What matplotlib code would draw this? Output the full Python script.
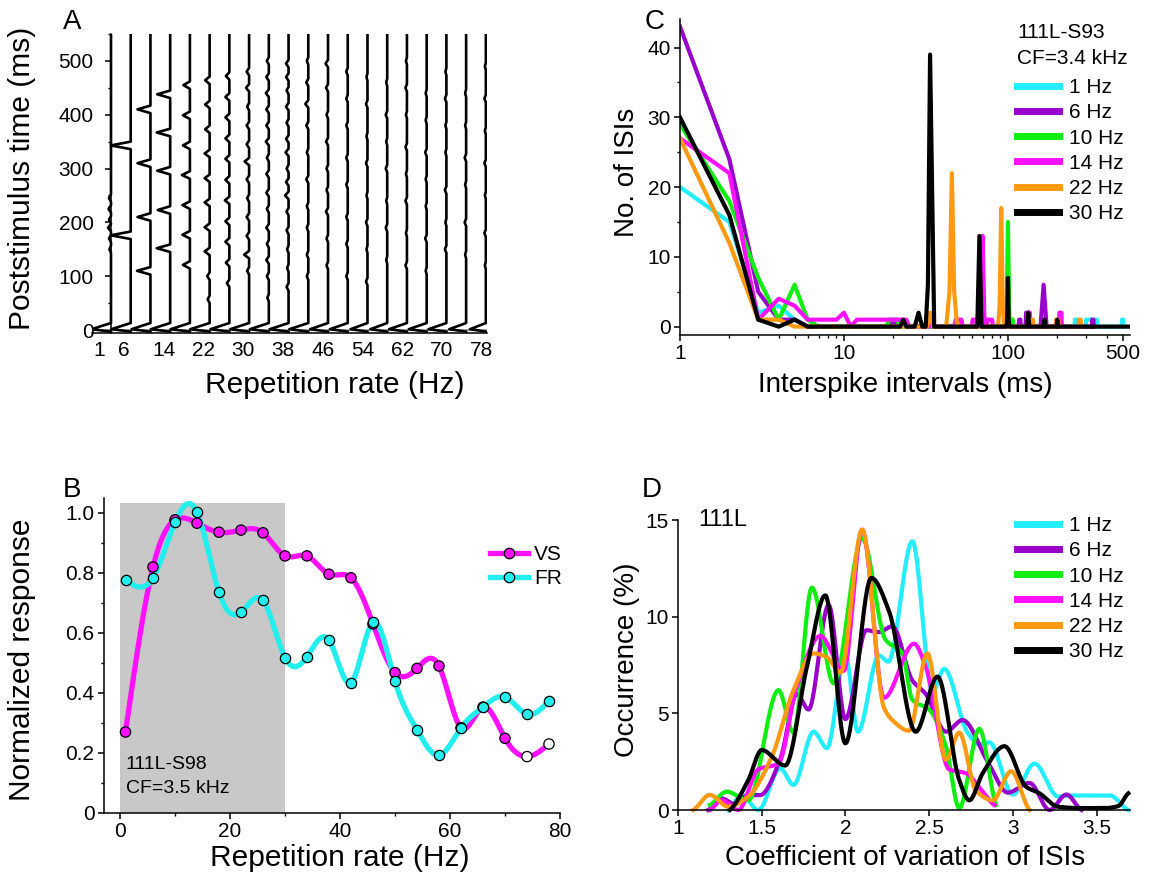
import numpy as np
import matplotlib
matplotlib.use('Agg')
import matplotlib.pyplot as plt
from matplotlib.patches import Rectangle
from matplotlib.ticker import MultipleLocator, FixedLocator, NullFormatter
from matplotlib.lines import Line2D

plt.rcParams['font.family'] = ['Liberation Sans', 'DejaVu Sans']

W, H = 1150, 894

# ---------------- panel A : PSTHs ----------------
a_rates = [1, 6, 10, 14, 18, 22, 26, 30, 34, 38, 42, 46, 50, 54, 58, 62, 66, 70, 74, 78]
a_ticks = [1, 6, 14, 22, 30, 38, 46, 54, 62, 70, 78]
a_onset = [3.9, 3.9, 3.8, 3.9, 3.9, 3.9, 3.8, 3.8, 3.8, 3.8, 3.8, 3.6, 3.6, 3.4, 3.4, 3.6, 3.6, 3.6, 3.4, 3.2]
a_peak_t = [
    [150, 170, 190, 205, 225, 245],
    [176, 343],
    [110, 210, 310, 410],
    [152, 223, 296, 367, 438],
    [121, 177, 232, 288, 343, 399, 455],
    [57, 100, 146, 191, 237, 282, 328, 373, 419, 464],
    [87, 125, 164, 202, 241, 279, 318, 356, 395, 433, 472],
    [110, 140, 175, 210, 245, 280, 313, 345, 380, 415, 450, 480],
    [60, 100, 130, 160, 190, 225, 255, 290, 320, 350, 380, 410, 440, 470, 500],
    [80, 115, 150, 185, 220, 250, 275, 300, 330, 355, 385, 415, 445, 470, 495],
    [100, 140, 190, 230, 280, 330, 380, 420, 460, 500],
    [120, 170, 220, 260, 300, 350, 400, 450, 495],
    [100, 160, 210, 270, 320, 380, 430, 480],
    [90, 150, 200, 250, 310, 360, 420, 470],
    [130, 190, 240, 300, 350, 400, 460],
    [120, 180, 240, 290, 340, 400, 450, 500],
    [110, 170, 230, 280, 330, 390, 440],
    [150, 200, 260, 330, 380, 430, 480],
    [140, 200, 270, 320, 380, 440],
    [120, 180, 250, 310, 370, 430, 490],
]
a_peak_h = [
    [0.3, 0.4, 0.6, 0.4, 0.5, 0.4],
    [4.0, 4.0],
    [2.7, 2.6, 2.6, 2.6],
    [2.7, 2.5, 2.6, 2.7, 2.6],
    [1.4, 1.5, 1.5, 1.6, 1.4, 1.4, 1.3],
    [0.4, 0.5, 1.0, 1.0, 1.0, 1.0, 1.0, 0.9, 0.9, 0.9],
    [0.5, 0.7, 0.8, 0.8, 0.9, 0.8, 0.8, 0.8, 0.8, 0.8, 0.7],
    [0.4, 1.0, 0.5, 0.5, 0.4, 0.5, 0.9, 0.5, 0.5, 0.4, 0.6, 0.5],
    [0.3, 0.4, 0.5, 0.4, 0.5, 0.4, 0.5, 0.5, 0.4, 0.6, 0.5, 0.5, 0.6, 0.5, 0.4],
    [0.4, 0.3, 0.3, 0.4, 0.4, 0.7, 0.5, 0.4, 0.6, 0.5, 0.4, 0.5, 0.4, 0.5, 0.5],
    [0.3, 0.3, 0.3, 0.3, 0.4, 0.3, 0.4, 0.6, 0.4, 0.3],
    [0.3, 0.3, 0.4, 0.3, 0.3, 0.4, 0.3, 0.4, 0.5],
    [0.3, 0.3, 0.3, 0.3, 0.3, 0.3, 0.3, 0.3],
    [0.3, 0.2, 0.3, 0.2, 0.3, 0.2, 0.3, 0.2],
    [0.2, 0.3, 0.2, 0.3, 0.2, 0.3, 0.2],
    [0.3, 0.2, 0.3, 0.2, 0.3, 0.2, 0.3, 0.2],
    [0.2, 0.3, 0.2, 0.2, 0.3, 0.2, 0.2],
    [0.3, 0.2, 0.3, 0.2, 0.2, 0.3, 0.2],
    [0.2, 0.3, 0.2, 0.3, 0.2, 0.2],
    [0.2, 0.3, 0.2, 0.3, 0.2, 0.3, 0.2],
]

# ---------------- panel B : VS / FR ----------------
b_rates = [1, 6, 10, 14, 18, 22, 26, 30, 34, 38, 42, 46, 50, 54, 58, 62, 66, 70, 74, 78]
b_vs = [0.27, 0.82, 0.977, 0.966, 0.936, 0.943, 0.934, 0.857, 0.857, 0.796, 0.784,
        0.63, 0.468, 0.482, 0.49, 0.284, 0.353, 0.249, 0.188, 0.23]
b_fr = [0.777, 0.784, 0.969, 1.003, 0.736, 0.669, 0.709, 0.518, 0.521, 0.576, 0.434,
        0.636, 0.44, 0.277, 0.192, 0.284, 0.353, 0.387, 0.329, 0.374]
b_vs_sig = [1] * 18 + [0, 0]

# ---------------- panel C : ISI histograms ----------------
c_labels = ['1 Hz', '6 Hz', '10 Hz', '14 Hz', '22 Hz', '30 Hz']
colors = ['#22EEFF', '#9900CC', '#11EE11', '#FF11FF', '#FF9911', '#000000']
c_x = [
    [1, 2, 3, 4, 5, 6, 51, 52, 53, 255, 256, 262, 263, 298, 299, 350, 351, 495, 496, 505, 506, 530],
    [1, 2, 3, 4, 5, 6, 19, 20, 21, 116, 117, 119, 120, 128, 129, 133, 134, 158, 165, 172, 325, 326, 332, 333],
    [1, 2, 3, 4, 5, 6, 7, 18, 19, 21, 22, 97, 98, 100, 102, 103, 104, 105, 107, 108],
    [1, 2, 3, 4, 5, 6, 9, 10, 11, 12, 14, 15, 24, 25, 33, 34, 35, 47, 48, 52, 53, 60, 61, 64, 65,
     68, 70, 72, 74, 75, 80, 81, 131, 132, 136, 137, 205, 206, 212, 213],
    [1, 2, 3, 4, 5, 32, 33.5, 35, 42, 44, 45.5, 47, 49, 87, 89, 91, 93, 95,
     137, 138, 142, 143, 195, 196, 203, 204, 270, 271, 278, 279],
    [1, 2, 3, 4, 5, 6, 22, 23, 24, 27, 28.5, 30, 31.5, 32.5, 33.5, 35.5, 65, 67, 69,
     98, 99, 100, 101, 102, 131, 133, 135, 165, 167, 169, 198, 200, 202, 550],
]
c_y = [
    [20, 15, 2, 3, 1, 0, 0, 1, 0, 0, 1, 1, 0, 0, 1, 1, 0, 0, 1, 1, 0, 0],
    [43, 24, 5, 1, 1, 0, 0, 1, 0, 0, 1, 1, 0, 0, 2, 2, 0, 0, 6, 0, 0, 1, 1, 0],
    [29, 18, 7, 1, 6, 1, 0, 0, 1, 1, 0, 0, 1, 15, 1, 0, 0, 1, 1, 0],
    [27, 22, 1, 4, 3, 1, 1, 2, 0, 1, 1, 1, 1, 0, 0, 1, 0, 0, 1, 1, 0, 0, 1, 1, 0,
     0, 13, 0, 0, 1, 1, 0, 0, 2, 2, 0, 0, 2, 2, 0],
    [27, 12, 1, 1, 0, 0, 2, 0, 0, 5, 22, 5, 0, 0, 3, 17, 3, 0,
     0, 1, 1, 0, 0, 1, 1, 0, 0, 1, 1, 0],
    [30, 16, 1, 0, 1, 0, 0, 1, 0, 0, 2, 0, 0, 6, 39, 0, 0, 13, 0,
     0, 1, 7, 1, 0, 0, 2, 0, 0, 1, 0, 0, 1, 0, 0],
]

# ---------------- panel D : CV distributions ----------------
d_x = [
    [1.30, 1.38, 1.48, 1.61, 1.69, 1.81, 1.89, 2.00, 2.075, 2.20, 2.256, 2.40, 2.52, 2.59,
     2.73, 2.80, 2.86, 3.00, 3.13, 3.27, 3.35, 3.45, 3.58, 3.69],
    [1.18, 1.26, 1.34, 1.42, 1.49, 1.61, 1.71, 1.78, 1.90, 2.00, 2.125, 2.20, 2.28, 2.40,
     2.48, 2.60, 2.70, 2.85, 2.97, 3.10, 3.22, 3.32, 3.41],
    [1.19, 1.29, 1.42, 1.60, 1.69, 1.80, 1.93, 2.10, 2.24, 2.34, 2.40, 2.50, 2.60, 2.68, 2.80, 2.90],
    [1.19, 1.26, 1.36, 1.48, 1.60, 1.71, 1.85, 1.99, 2.10, 2.23, 2.41, 2.48, 2.62, 2.72, 2.82, 2.89],
    [1.09, 1.19, 1.30, 1.42, 1.56, 1.69, 1.81, 1.89, 1.97, 2.10, 2.23, 2.28, 2.38, 2.49,
     2.60, 2.68, 2.78, 2.88, 2.99, 3.10],
    [1.31, 1.42, 1.50, 1.64, 1.77, 1.88, 2.00, 2.155, 2.26, 2.42, 2.55, 2.68, 2.74, 2.82,
     2.95, 3.08, 3.16, 3.27, 3.40, 3.55, 3.63, 3.69],
]
d_y = [
    [0, 0.78, 0, 2.15, 1.3, 4.05, 3.2, 8.0, 4.05, 8.0, 7.67, 13.9, 6.1, 7.3,
     4.0, 3.4, 3.5, 0.8, 2.4, 0.7, 0.75, 0.75, 0.75, 0],
    [0, 0.6, 0.3, 0.77, 0.77, 2.6, 6.0, 5.2, 10.6, 4.7, 9.3, 9.2, 9.5, 6.7,
     6.0, 4.05, 4.65, 2.5, 0.9, 1.4, 0, 0.8, 0],
    [0.26, 0.95, 0.5, 6.2, 4.0, 11.5, 6.55, 14.05, 8.8, 8.1, 5.7, 5.2, 3.3, 0.1, 4.2, 0.26],
    [0, 0.5, 0, 2.1, 2.4, 6.4, 9.0, 7.2, 14.5, 5.8, 8.6, 7.4, 2.1, 1.9, 0.95, 0.26],
    [0, 0.78, 0.17, 0.7, 2.75, 6.2, 8.1, 7.9, 7.1, 14.5, 5.3, 4.65, 4.1, 8.1,
     2.6, 4.0, 1.0, 0.5, 2.0, 0],
    [0, 1.55, 3.1, 2.3, 7.4, 11.1, 3.45, 12.0, 10.3, 4.05, 6.9, 1.55, 0.5, 1.9,
     3.3, 1.2, 0.86, 0.17, 0.1, 0.1, 0.2, 0.86],
]


def natural_spline(x, y, n=600):
    x = np.asarray(x, float)
    y = np.asarray(y, float)
    m = len(x)
    h = np.diff(x)
    A = np.zeros((m, m))
    r = np.zeros(m)
    A[0, 0] = A[-1, -1] = 1
    for i in range(1, m - 1):
        A[i, i - 1] = h[i - 1]
        A[i, i] = 2 * (h[i - 1] + h[i])
        A[i, i + 1] = h[i]
        r[i] = 3 * ((y[i + 1] - y[i]) / h[i] - (y[i] - y[i - 1]) / h[i - 1])
    c = np.linalg.solve(A, r)
    b = (y[1:] - y[:-1]) / h - h * (2 * c[:-1] + c[1:]) / 3
    d = (c[1:] - c[:-1]) / (3 * h)
    xs = np.linspace(x[0], x[-1], n)
    k = np.clip(np.searchsorted(x, xs) - 1, 0, m - 2)
    dx = xs - x[k]
    return xs, y[k] + b[k] * dx + c[k] * dx ** 2 + d[k] * dx ** 3


def pchip(x, y, n=800):
    x = np.asarray(x, float)
    y = np.asarray(y, float)
    h = np.diff(x)
    dl = np.diff(y) / h
    m = np.zeros_like(y)
    for k in range(1, len(x) - 1):
        if dl[k - 1] * dl[k] > 0:
            w1 = 2 * h[k] + h[k - 1]
            w2 = h[k] + 2 * h[k - 1]
            m[k] = (w1 + w2) / (w1 / dl[k - 1] + w2 / dl[k])
    m[0] = dl[0] * 0.5
    m[-1] = dl[-1] * 0.5
    xs = np.linspace(x[0], x[-1], n)
    k = np.clip(np.searchsorted(x, xs) - 1, 0, len(x) - 2)
    t = (xs - x[k]) / h[k]
    h00 = 2 * t ** 3 - 3 * t ** 2 + 1
    h10 = t ** 3 - 2 * t ** 2 + t
    h01 = -2 * t ** 3 + 3 * t ** 2
    h11 = t ** 3 - t ** 2
    return xs, h00 * y[k] + h10 * h[k] * m[k] + h01 * y[k + 1] + h11 * h[k] * m[k + 1]


def box(l, t, r, b):
    return [l / W, 1 - b / H, (r - l) / W, (b - t) / H]


def style(ax):
    for s in ['top', 'right']:
        ax.spines[s].set_visible(False)
    for s in ['left', 'bottom']:
        ax.spines[s].set_linewidth(1.1)
    ax.tick_params(which='major', direction='out', length=4.5, width=1.1, labelsize=15, pad=2)
    ax.tick_params(which='minor', direction='out', length=2.5, width=1.0)


fig = plt.figure(figsize=(W / 100, H / 100), dpi=100)

# ---- A ----
ax = fig.add_axes(box(92, 34, 487, 332.7))
style(ax)
ax.set_xlim(-0.41, 79.07)
ax.set_ylim(-5, 550)
ax.axhline(-0.5, color='0.6', lw=1.2)
for i, r in enumerate(a_rates):
    bx = 3.41 + 3.97 * i
    xs = [bx, bx - a_onset[i], bx]
    ys = [-3, 1.5, 13]
    for t, h in zip(a_peak_t[i], a_peak_h[i]):
        xs += [bx, bx - h, bx]
        ys += [t - 7, t, t + 7]
    xs.append(bx)
    ys.append(550)
    ax.plot(xs, ys, color='k', lw=1.9)
ax.spines['left'].set_position(('data', 3.41))
ax.yaxis.set_major_locator(MultipleLocator(100))
ax.yaxis.set_minor_locator(MultipleLocator(50))
ax.tick_params(axis='y', which='major', pad=8)
ax.set_xticks(a_ticks)
ax.tick_params(axis='x', length=0, pad=6)

# ---- B ----
ax = fig.add_axes(box(103.5, 498, 560, 813))
style(ax)
ax.set_xlim(-3, 80)
ax.set_ylim(0, 1.05)
ax.add_patch(Rectangle((0, 0), 30, 1.033, color='#C8C8C8', lw=0, zorder=0))
xs, ys = natural_spline(b_rates, b_vs)
ax.plot(xs, ys, color='#FF11FF', lw=3.8, zorder=2)
xs, ys = natural_spline(b_rates, b_fr)
ax.plot(xs, ys, color='#22EEEE', lw=3.8, zorder=3)
vs_face = ['#FF11FF' if s else 'white' for s in b_vs_sig]
ax.scatter(b_rates, b_vs, s=55, c=vs_face, edgecolors='k', linewidths=0.9, zorder=4)
ax.scatter(b_rates, b_fr, s=55, c='#22EEEE', edgecolors='k', linewidths=0.9, zorder=5)
ax.xaxis.set_major_locator(MultipleLocator(20))
ax.xaxis.set_minor_locator(MultipleLocator(10))
ax.yaxis.set_major_locator(FixedLocator([0, 0.2, 0.4, 0.6, 0.8, 1.0]))
ax.set_yticklabels(['0', '0.2', '0.4', '0.6', '0.8', '1.0'])
ax.yaxis.set_minor_locator(MultipleLocator(0.1))
ax.text(1, 0.163, '111L-S98', fontsize=14, va='center')
ax.text(1, 0.083, 'CF=3.5 kHz', fontsize=14, va='center')
hb = [Line2D([], [], color='#FF11FF', lw=3.8, marker='o', ms=7.5, mfc='#FF11FF', mec='k', mew=0.9),
      Line2D([], [], color='#22EEEE', lw=3.8, marker='o', ms=7.5, mfc='#22EEEE', mec='k', mew=0.9)]
ax.legend(hb, ['VS', 'FR'], loc='upper left', bbox_to_anchor=(490 / W, 1 - 545 / H),
          bbox_transform=fig.transFigure, frameon=False, borderpad=0, borderaxespad=0,
          handlelength=1.8, handletextpad=0.3, labelspacing=0.25, fontsize=15)

# ---- C ----
ax = fig.add_axes(box(680, 19, 1130, 335))
style(ax)
ax.set_xscale('log')
ax.set_xlim(1, 555)
ax.set_ylim(-1.2, 44.1)
for xv, yv, col, lab in zip(c_x, c_y, colors, c_labels):
    ax.plot(xv, yv, color=col, lw=3.0, label=lab, solid_joinstyle='round')
ax.xaxis.set_major_locator(FixedLocator([1, 10, 100, 500]))
ax.set_xticklabels(['1', '10', '100', '500'])
ax.xaxis.set_minor_locator(FixedLocator([2, 3, 4, 5, 6, 7, 8, 9, 20, 30, 40, 50, 60, 70, 80, 90,
                                         200, 300, 400]))
ax.xaxis.set_minor_formatter(NullFormatter())
ax.yaxis.set_major_locator(MultipleLocator(10))
ax.yaxis.set_minor_locator(MultipleLocator(5))
fig.text(1017 / W, 1 - 33 / H, '111L-S93', fontsize=15, va='center')
fig.text(1017 / W, 1 - 58 / H, 'CF=3.4 kHz', fontsize=15, va='center')
ax.legend(loc='upper left', bbox_to_anchor=(1017 / W, 1 - 78 / H), bbox_transform=fig.transFigure,
          frameon=False, borderpad=0, borderaxespad=0, handlelength=2.0, handletextpad=0.5,
          labelspacing=0.3, fontsize=15)
for ln in ax.get_legend().get_lines():
    ln.set_linewidth(5)

# ---- D ----
ax = fig.add_axes(box(678, 520, 1130, 810))
style(ax)
ax.set_xlim(1, 3.7)
ax.set_ylim(0, 15)
for xv, yv, col, lab in zip(d_x, d_y, colors, c_labels):
    xs, ys = pchip(xv, yv)
    ax.plot(xs, ys, color=col, lw=3.0, label=lab, clip_on=False)
ax.xaxis.set_major_locator(FixedLocator([1, 1.5, 2, 2.5, 3, 3.5]))
ax.set_xticklabels(['1', '1.5', '2', '2.5', '3', '3.5'])
ax.yaxis.set_major_locator(MultipleLocator(5))
fig.text(698 / W, 1 - 520 / H, '111L', fontsize=17, va='center')
ax.legend(loc='upper left', bbox_to_anchor=(1017 / W, 1 - 516 / H), bbox_transform=fig.transFigure,
          frameon=False, borderpad=0, borderaxespad=0, handlelength=2.0, handletextpad=0.5,
          labelspacing=0.3, fontsize=15)
for ln in ax.get_legend().get_lines():
    ln.set_linewidth(5)

# ---- labels ----
left = dict(fontsize=21.5, ha='center', va='center')
right = dict(fontsize=20, ha='center', va='center')
fig.text(22 / W, 1 - 178 / H, 'Poststimulus time (ms)', rotation=90, **left)
fig.text(335 / W, 1 - 385 / H, 'Repetition rate (Hz)', **left)
fig.text(22 / W, 1 - 660 / H, 'Normalized response', rotation=90, **left)
fig.text(340 / W, 1 - 858 / H, 'Repetition rate (Hz)', **left)
fig.text(627 / W, 1 - 172 / H, 'No. of ISIs', rotation=90, **right)
fig.text(905 / W, 1 - 385 / H, 'Interspike intervals (ms)', **right)
fig.text(627 / W, 1 - 660 / H, 'Occurrence (%)', rotation=90, **right)
fig.text(905 / W, 1 - 858 / H, 'Coefficient of variation of ISIs', **right)
for s, x, y in [('A', 72, 22), ('B', 72, 490), ('C', 655, 22), ('D', 652, 490)]:
    fig.text(x / W, 1 - y / H, s, fontsize=20, ha='center', va='center')

fig.savefig('out.png', dpi=100)
